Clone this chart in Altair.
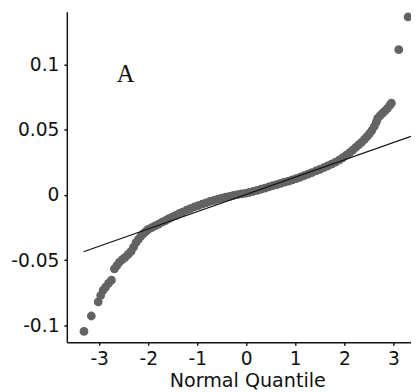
import altair as alt
import pandas as pd

# Normal quantile plot readings (quantile, residual value)
quantiles = [-3.31, -3.16, -3.02, -2.97, -2.92, -2.87, -2.81, -2.75, -2.69, -2.64,
             -2.59, -2.53, -2.47, -2.41, -2.35, -2.30, -2.25, -2.20, -2.15, -2.10,
             -2.05, -2.00, -1.93, -1.86, -1.79, -1.72, -1.65, -1.58, -1.51, -1.44,
             -1.37, -1.30, -1.22, -1.14, -1.06, -0.98, -0.90, -0.82, -0.74, -0.66,
             -0.58, -0.50, -0.42, -0.34, -0.26, -0.18, -0.10, -0.02, 0.06, 0.14,
             0.22, 0.30, 0.38, 0.46, 0.54, 0.62, 0.70, 0.78, 0.86, 0.94,
             1.02, 1.10, 1.18, 1.26, 1.34, 1.42, 1.50, 1.58, 1.66, 1.74,
             1.82, 1.90, 1.97, 2.04, 2.11, 2.17, 2.23, 2.29, 2.35, 2.41,
             2.46, 2.51, 2.56, 2.61, 2.65, 2.68, 2.73, 2.78, 2.83, 2.88,
             2.93, 2.96, 3.11, 3.30]
values = [-0.1045, -0.0927, -0.0818, -0.0770, -0.0730, -0.0705, -0.0677, -0.0652, -0.0566, -0.0540,
          -0.0515, -0.0495, -0.0477, -0.0455, -0.0432, -0.0400, -0.0365, -0.0340, -0.0315, -0.0296,
          -0.0279, -0.0263, -0.0250, -0.0236, -0.0222, -0.0208, -0.0195, -0.0181, -0.0168, -0.0155,
          -0.0142, -0.0130, -0.0116, -0.0103, -0.0091, -0.0080, -0.0069, -0.0059, -0.0049, -0.0040,
          -0.0031, -0.0023, -0.0016, -0.0009, -0.0002, 0.0004, 0.0009, 0.0013, 0.0020, 0.0028,
          0.0036, 0.0045, 0.0054, 0.0063, 0.0072, 0.0081, 0.0090, 0.0099, 0.0108, 0.0117,
          0.0126, 0.0137, 0.0149, 0.0161, 0.0173, 0.0185, 0.0197, 0.0210, 0.0224, 0.0238,
          0.0253, 0.0270, 0.0288, 0.0306, 0.0326, 0.0345, 0.0365, 0.0385, 0.0405, 0.0427,
          0.0448, 0.0470, 0.0495, 0.0526, 0.0558, 0.0589, 0.0610, 0.0628, 0.0646, 0.0665,
          0.0690, 0.0705, 0.1115, 0.1366]

# Reference (fit) line end points
fit_q = [-3.32, 3.36]
fit_v = [-0.0434, 0.0451]

# Axis ticks
x_ticks = [-3, -2, -1, 0, 1, 2, 3]
y_ticks = [-0.1, -0.05, 0, 0.05, 0.1]

# Panel label
label_text = ["A"]
label_q = [-2.46]
label_v = [0.0865]

pts = pd.DataFrame({"q": quantiles, "v": values})
fit = pd.DataFrame({"q": fit_q, "v": fit_v})
lab = pd.DataFrame({"q": label_q, "v": label_v, "t": label_text})

xscale = alt.Scale(domain=[-3.66, 3.36], nice=False, zero=False)
yscale = alt.Scale(domain=[-0.1128, 0.1406], nice=False, zero=False)


def xaxis():
    return alt.Axis(values=x_ticks, title="Normal Quantile",
                    labelExpr="toString(datum.value)",
                    titleX=184, titleY=45, titleBaseline="alphabetic", titleAlign="center")


def yaxis():
    return alt.Axis(values=y_ticks, title=None, labelExpr="toString(datum.value)")


points = alt.Chart(pts).mark_circle(size=80, color="#636363", opacity=1).encode(
    x=alt.X("q:Q", scale=xscale, axis=xaxis()),
    y=alt.Y("v:Q", scale=yscale, axis=yaxis()),
)

line = alt.Chart(fit).mark_line(color="#111111", strokeWidth=1.2).encode(
    x=alt.X("q:Q", scale=xscale, axis=xaxis()),
    y=alt.Y("v:Q", scale=yscale, axis=yaxis()),
)

text = alt.Chart(lab).mark_text(font="Liberation Serif", fontSize=25, baseline="alphabetic",
                                align="center", color="#111111").encode(
    x=alt.X("q:Q", scale=xscale, axis=xaxis()),
    y=alt.Y("v:Q", scale=yscale, axis=yaxis()),
    text="t:N",
)

chart = alt.layer(points, line, text).properties(
    width=351, height=337,
    autosize=alt.AutoSizeParams(type="none"),
    padding={"left": 60, "top": 0, "right": 0, "bottom": 50},
).configure_view(stroke=None).configure_axis(
    grid=False,
    domainColor="#111111", domainWidth=1.5,
    tickColor="#111111", tickWidth=1.5, tickSize=3,
    labelPadding=5,
    labelFont="DejaVu Sans", labelFontSize=19, labelColor="#111111",
    titleFont="DejaVu Sans", titleFontSize=19.5, titleFontWeight="normal", titleColor="#111111",
)

chart.save("out.html", embed_options={"renderer": "svg", "actions": False})
